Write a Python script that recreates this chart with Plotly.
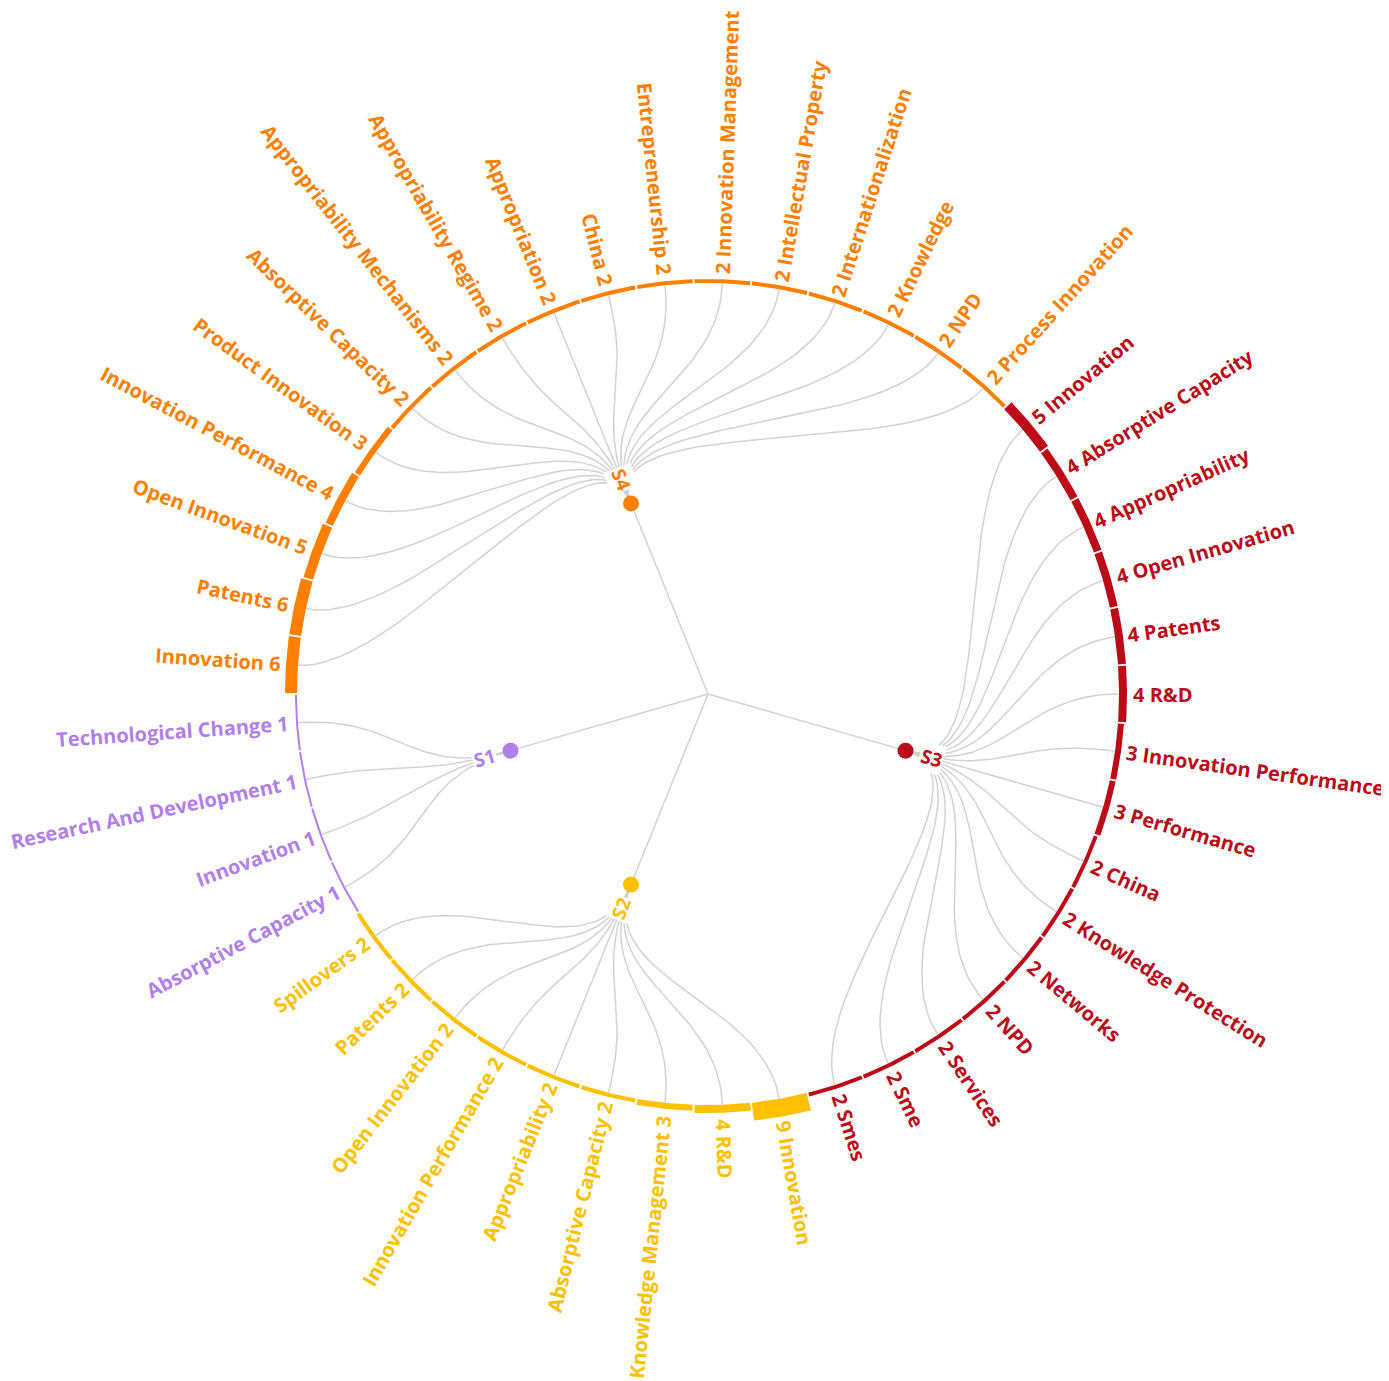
import math
import plotly.graph_objects as go

# ---------------- data ----------------
# groups listed clockwise around the circle, starting at the top-right of S3
s3_terms = ["Innovation", "Absorptive Capacity", "Appropriability", "Open Innovation", "Patents", "R&D",
            "Innovation Performance", "Performance", "China", "Knowledge Protection", "Networks", "NPD",
            "Services", "Sme", "Smes"]
s3_counts = [5, 4, 4, 4, 4, 4, 3, 3, 2, 2, 2, 2, 2, 2, 2]

s2_terms = ["Innovation", "R&D", "Knowledge Management", "Absorptive Capacity", "Appropriability",
            "Innovation Performance", "Open Innovation", "Patents", "Spillovers"]
s2_counts = [9, 4, 3, 2, 2, 2, 2, 2, 2]

s1_terms = ["Absorptive Capacity", "Innovation", "Research And Development", "Technological Change"]
s1_counts = [1, 1, 1, 1]

s4_terms = ["Innovation", "Patents", "Open Innovation", "Innovation Performance", "Product Innovation",
            "Absorptive Capacity", "Appropriability Mechanisms", "Appropriability Regime", "Appropriation",
            "China", "Entrepreneurship", "Innovation Management", "Intellectual Property",
            "Internationalization", "Knowledge", "NPD", "Process Innovation"]
s4_counts = [6, 6, 5, 4, 3, 2, 2, 2, 2, 2, 2, 2, 2, 2, 2, 2, 2]

groups = [("S3", s3_terms, s3_counts), ("S2", s2_terms, s2_counts),
          ("S1", s1_terms, s1_counts), ("S4", s4_terms, s4_counts)]
group_colors = {"S1": "#B27EEC", "S2": "#FFC000", "S3": "#BC0A18", "S4": "#FF8000"}

# ---------------- layout constants ----------------
PAGE_OFF = 8                      # default body margin of the html page
W, H = 1389 - PAGE_OFF, 1381 - PAGE_OFF
CX, CY = 708 - PAGE_OFF, 694 - PAGE_OFF
R_LEAF = 411.0
R_GROUP = R_LEAF / 2
START_ANGLE = -40.0          # screen degrees, clockwise from +x
FONT = "Open Sans"
FSIZE = 20
FWEIGHT = 700
WFACT = 1.08
LINK_COLOR = "#d2d2d2"

CW = {' ': 260, '&': 705,
      'A': 633, 'B': 648, 'C': 631, 'D': 729, 'E': 556, 'F': 516, 'G': 728, 'H': 738, 'I': 279, 'J': 267,
      'K': 614, 'L': 519, 'M': 907, 'N': 754, 'O': 779, 'P': 602, 'Q': 779, 'R': 618, 'S': 549, 'T': 553,
      'U': 728, 'V': 582, 'W': 907, 'X': 571, 'Y': 546, 'Z': 556,
      'a': 556, 'b': 613, 'c': 479, 'd': 613, 'e': 561, 'f': 336, 'g': 546, 'h': 614, 'i': 253, 'j': 253,
      'k': 529, 'l': 253, 'm': 930, 'n': 614, 'o': 604, 'p': 613, 'q': 613, 'r': 408, 's': 477, 't': 353,
      'u': 614, 'v': 500, 'w': 778, 'x': 522, 'y': 500, 'z': 468}


def text_width(s, size):
    return sum(CW.get(ch, 572) for ch in s) / 1000.0 * size * WFACT


def pt(theta, r):
    t = math.radians(theta)
    return r * math.cos(t), -r * math.sin(t)


def norm(a):
    a = a % 360
    if a > 180:
        a -= 360
    return a


n_leaves = sum(len(g[1]) for g in groups)
step = 360.0 / n_leaves

annotations = []
link_x, link_y = [], []
root_x, root_y = [], []
node_x, node_y, node_c = [], [], []
band_traces = []

idx = 0
for gname, terms, counts in groups:
    color = group_colors[gname]
    angles = [START_ANGLE + step * (idx + k) for k in range(len(terms))]
    idx += len(terms)
    g_ang = sum(angles) / len(angles)
    gx, gy = pt(g_ang, R_GROUP)
    node_x.append(gx); node_y.append(gy); node_c.append(color)
    root_x += [0, gx, None]; root_y += [0, gy, None]

    band_x, band_y = [], []
    half_gap = math.degrees(0.9 / R_LEAF)
    for a, term, c in zip(angles, terms, counts):
        # link (radial bump curve)
        rm = (R_GROUP + R_LEAF) / 2
        p0 = pt(g_ang, R_GROUP); p1 = pt(g_ang, rm); p2 = pt(a, rm); p3 = pt(a, R_LEAF)
        for s in range(41):
            t = s / 40
            b0 = (1 - t) ** 3; b1 = 3 * t * (1 - t) ** 2; b2 = 3 * t * t * (1 - t); b3 = t ** 3
            link_x.append(b0 * p0[0] + b1 * p1[0] + b2 * p2[0] + b3 * p3[0])
            link_y.append(b0 * p0[1] + b1 * p1[1] + b2 * p2[1] + b3 * p3[1])
        link_x.append(None); link_y.append(None)

        # band
        thick = max(2.0 * c, 1.6)
        a0 = a - step / 2 + half_gap
        a1 = a + step / 2 - half_gap
        nseg = 12
        pts = [pt(a0 + (a1 - a0) * k / nseg, R_LEAF + thick) for k in range(nseg + 1)]
        pts += [pt(a1 - (a1 - a0) * k / nseg, R_LEAF) for k in range(nseg + 1)]
        pts.append(pts[0])
        band_x += [p[0] for p in pts] + [None]
        band_y += [p[1] for p in pts] + [None]

        # label
        na = norm(a)
        if -90 < na < 90:
            txt = f"{c} {term}"
            tang = na
        else:
            txt = f"{term} {c}"
            tang = norm(na - 180)
        w = text_width(txt, FSIZE) + 2
        r_mid = R_LEAF + thick + 4 + w / 2
        lx, ly = pt(a, r_mid)
        annotations.append(dict(x=lx, y=ly, xref="x", yref="y", text=txt, showarrow=False,
                                xanchor="center", yanchor="middle", textangle=tang,
                                font=dict(family=FONT, size=FSIZE, color=color, weight=FWEIGHT)))

    band_traces.append(go.Scatter(x=band_x, y=band_y, mode="lines", fill="toself", fillcolor=color,
                                  line=dict(width=0, color=color), hoverinfo="skip", showlegend=False))

    # group label
    na = norm(g_ang)
    tang = na if -90 < na < 90 else norm(na - 180)
    sx, sy = pt(g_ang, 232)
    annotations.append(dict(x=sx, y=sy, xref="x", yref="y", text=gname, showarrow=False,
                            xanchor="center", yanchor="middle", textangle=tang, bgcolor="white",
                            borderpad=1,
                            font=dict(family=FONT, size=19, color=color, weight=FWEIGHT)))

fig = go.Figure()
fig.add_trace(go.Scatter(x=link_x, y=link_y, mode="lines", line=dict(color=LINK_COLOR, width=1.5),
                         hoverinfo="skip", showlegend=False))
fig.add_trace(go.Scatter(x=root_x, y=root_y, mode="lines", line=dict(color=LINK_COLOR, width=1.5),
                         hoverinfo="skip", showlegend=False))
for tr in band_traces:
    fig.add_trace(tr)
fig.add_trace(go.Scatter(x=node_x, y=node_y, mode="markers",
                         marker=dict(size=16, color=node_c, line=dict(width=0)),
                         hoverinfo="skip", showlegend=False))

fig.update_layout(
    width=W, height=H, margin=dict(l=0, r=0, t=0, b=0),
    paper_bgcolor="white", plot_bgcolor="white", showlegend=False,
    xaxis=dict(range=[-CX, W - CX], visible=False, fixedrange=True),
    yaxis=dict(range=[-(H - CY), CY], visible=False, fixedrange=True),
    annotations=annotations,
)
fig.write_html("out.html")
